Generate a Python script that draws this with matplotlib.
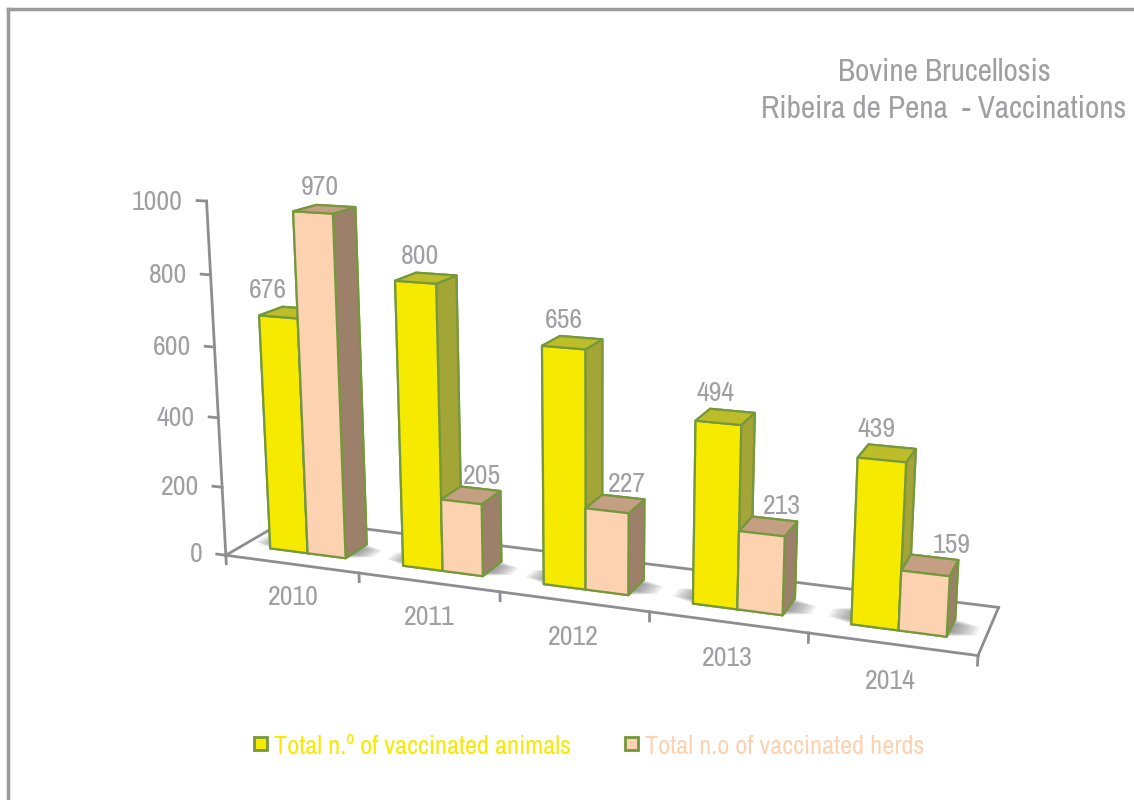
import matplotlib
matplotlib.use("Agg")
import matplotlib.pyplot as plt
from matplotlib.patches import Rectangle
from mpl_toolkits.mplot3d import proj3d
from mpl_toolkits.mplot3d.art3d import Poly3DCollection

YEARS = ["2010", "2011", "2012", "2013", "2014"]
ANIMALS = [676, 800, 656, 494, 439]
HERDS = [970, 205, 227, 213, 159]
Y_TICKS = [0, 200, 400, 600, 800, 1000]

TITLE_LINE1 = "Bovine Brucellosis"
TITLE_LINE2 = "Ribeira de Pena  - Vaccinations"
LEGEND_ANIMALS = "Total n.º of vaccinated animals"
LEGEND_HERDS = "Total n.o of vaccinated herds"

GRAY = "#a0a0a4"
AXIS_GRAY = "#8e8e92"
# face order for bar3d: bottom, top, front, back, left, right
YELLOW = ["#f6ea00", "#bdbd2a", "#f6ea00", "#f6ea00", "#a3a536", "#a3a536"]
PEACH = ["#fdd2b0", "#c49f84", "#fdd2b0", "#fdd2b0", "#9d8069", "#9d8069"]
EDGE = "#76983c"

# bar placement inside one category, in axis units
BAR_X = 0.2078
BAR_W = 0.2866
BAR_Y = 0.2762
BAR_D = 0.37

# labels were placed by hand in the original, so they sit off centre
LABEL_SHIFT_ANIMALS = [-0.16, -0.04, -0.055, -0.065, -0.065]
LABEL_SHIFT_HERDS = [-0.03, 0.08, 0.075, 0.085, 0.12]

plt.rcParams["font.family"] = ["Archivo Narrow", "Liberation Sans"]

W, H, S = 1134, 800, 1400
fig = plt.figure(figsize=(W / 100, H / 100), dpi=100)
ax = fig.add_axes([(W / 2 - S / 2 + 10.65) / W, (H / 2 - S / 2 - 20.09) / H, S / W, S / H],
                  projection="3d", computed_zorder=False)
ax.set_proj_type("persp", focal_length=0.2375)
ax.view_init(elev=14.46, azim=-69.64)
ax.set_box_aspect((2.7256, 0.4478, 1.3), zoom=0.6183)
ax.set_xlim(0, len(YEARS))
ax.set_ylim(0, 1)
ax.set_zlim(0, Y_TICKS[-1])
ax.set_axis_off()
proj = ax.get_proj()


def label(x, y, z, s, size, ha="center"):
    # project once and keep a plain 2D text, so its box is where it is drawn
    px, py, _ = proj3d.proj_transform(x, y, z, proj)
    ax.text2D(px, py, s, transform=ax.transData, color=GRAY, fontsize=size, ha=ha, va="center", zorder=40)


# floor and value axis
n = len(YEARS)
for xs, ys in [([0, n], [0, 0]), ([n, n], [0, 1]), ([0, 0], [0, 1]), ([0, n], [1, 1])]:
    ax.plot(xs, ys, [0, 0], color=AXIS_GRAY, lw=2, zorder=1)
ax.plot([0, 0], [0, 0], [0, Y_TICKS[-1]], color=AXIS_GRAY, lw=2, zorder=1)
for i in range(n + 1):
    ax.plot([i, i], [0, 0], [0, -25], color=AXIS_GRAY, lw=2, zorder=1)
for t in Y_TICKS:
    ax.plot([0, -0.07], [0, 0], [t, t], color=AXIS_GRAY, lw=2, zorder=1)
    label(-0.18, 0, t - 8, str(t), 20, ha="right")

for i in range(n):
    x0 = i + BAR_X
    x2 = x0 + 2 * BAR_W
    # soft shadow round the foot of each pair
    for k in range(1, 9):
        g = 0.02 * k
        inset = 0.012 * k
        verts = [[(x0 - g, BAR_Y + inset, 0), (x2 + g, BAR_Y + inset, 0),
                  (x2 + g, BAR_Y + BAR_D - inset, 0), (x0 - g, BAR_Y + BAR_D - inset, 0)]]
        ax.add_collection3d(Poly3DCollection(verts, facecolor="#505050", edgecolor="none", alpha=0.09, zorder=2))
    ax.bar3d(x0, BAR_Y, 0, BAR_W, BAR_D, ANIMALS[i], color=YELLOW, edgecolor=EDGE,
             linewidth=1.6, shade=False, zorder=10 + 2 * i)
    ax.bar3d(x0 + BAR_W, BAR_Y, 0, BAR_W, BAR_D, HERDS[i], color=PEACH, edgecolor=EDGE,
             linewidth=1.6, shade=False, zorder=11 + 2 * i)
    label(x0 + BAR_W / 2 + LABEL_SHIFT_ANIMALS[i], BAR_Y + BAR_D / 2, ANIMALS[i] + 58, str(ANIMALS[i]), 20)
    label(x0 + 1.5 * BAR_W + LABEL_SHIFT_HERDS[i], BAR_Y + BAR_D / 2, HERDS[i] + 58, str(HERDS[i]), 20)
    label(i + 0.5, 0, -100, YEARS[i], 20)

fig.text(944 / W, 1 - 72 / H, TITLE_LINE1, color=GRAY, fontsize=22.5, ha="center", va="center")
fig.text(944 / W, 1 - 109 / H, TITLE_LINE2, color=GRAY, fontsize=22.5, ha="center", va="center")

fig.add_artist(Rectangle((254 / W, 1 - 750 / H), 13 / W, 13 / H, transform=fig.transFigure,
                         facecolor="#f6ea00", edgecolor=EDGE, lw=2))
fig.text(274 / W, 1 - 746 / H, LEGEND_ANIMALS, color="#f6ea00", fontsize=19, ha="left", va="center")
fig.add_artist(Rectangle((625 / W, 1 - 750 / H), 13 / W, 13 / H, transform=fig.transFigure,
                         facecolor="#fdd2b0", edgecolor=EDGE, lw=2))
fig.text(645 / W, 1 - 746 / H, LEGEND_HERDS, color="#fdd2b0", fontsize=19, ha="left", va="center")

# outer frame, open at the right and bottom
fig.add_artist(plt.Line2D([8 / W, 8 / W], [0, 1 - 9 / H], color="#9a9a9a", lw=2.5))
fig.add_artist(plt.Line2D([8 / W, 1], [1 - 9 / H, 1 - 9 / H], color="#9a9a9a", lw=2.5))

fig.savefig("out.png", dpi=100)
